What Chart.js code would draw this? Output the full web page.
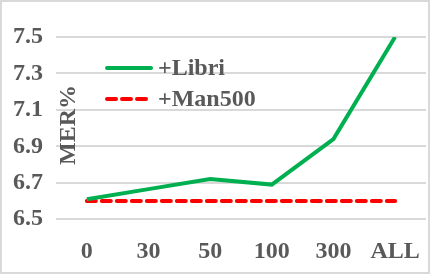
<!DOCTYPE html>
<html>
<head>
<meta charset="utf-8">
<script src="https://cdn.jsdelivr.net/npm/chart.js@4"></script>
<style>
    html, body { margin: 0; padding: 0; background: #fff; }
    #wrap { width: 430px; height: 274px; position: relative; }
</style>
</head>
<body>
<div id="wrap"><canvas id="merChart" width="430" height="274"></canvas></div>
<script>
const categories = ["0", "30", "50", "100", "300", "ALL"];
const libriValues = [6.61, 6.665, 6.72, 6.69, 6.94, 7.5];
const man500Values = [6.6, 6.6, 6.6, 6.6, 6.6, 6.6];
const yTicks = [6.5, 6.7, 6.9, 7.1, 7.3, 7.5];

const textColor = "#595959";
const fontFamily = "'Liberation Serif', 'Times New Roman', serif";

// frame, rotated axis title and the legend drawn inside the plot
const decorations = {
    id: "decorations",
    beforeDraw(chart) {
        const ctx = chart.ctx;
        ctx.save();
        ctx.fillStyle = "#fff";
        ctx.fillRect(0, 0, chart.width, chart.height);
        ctx.restore();
    },
    afterDraw(chart) {
        const ctx = chart.ctx;
        ctx.save();
        ctx.strokeStyle = "#d9d9d9";
        ctx.lineWidth = 2;
        ctx.strokeRect(1, 1, chart.width - 2, chart.height - 2);

        ctx.fillStyle = textColor;
        ctx.font = "bold 24px " + fontFamily;
        ctx.translate(69, 125);
        ctx.rotate(-Math.PI / 2);
        ctx.textAlign = "center";
        ctx.textBaseline = "middle";
        ctx.fillText("MER%", 0, 0);
        ctx.restore();

        ctx.save();
        ctx.font = "bold 24px " + fontFamily;
        ctx.textBaseline = "middle";
        chart.data.datasets.forEach((ds, i) => {
            const y = 68 + i * 31;
            ctx.strokeStyle = ds.borderColor;
            ctx.lineWidth = 4;
            ctx.lineCap = "round";
            ctx.setLineDash(ds.borderDash || []);
            ctx.beginPath();
            ctx.moveTo(107, y);
            ctx.lineTo(151, y);
            ctx.stroke();
            ctx.setLineDash([]);
            ctx.fillStyle = textColor;
            ctx.fillText(ds.label, 158, y + 1);
        });
        ctx.restore();
    }
};

new Chart(document.getElementById("merChart"), {
    type: "line",
    data: {
        labels: categories,
        datasets: [
            {
                label: "+Libri",
                data: libriValues,
                borderColor: "#00B050",
                borderWidth: 4,
                pointRadius: 0,
                tension: 0,
                fill: false
            },
            {
                label: "+Man500",
                data: man500Values,
                borderColor: "#FF0000",
                borderWidth: 4,
                borderDash: [9, 6],
                borderCapStyle: "round",
                pointRadius: 0,
                fill: false
            }
        ]
    },
    options: {
        responsive: false,
        animation: false,
        layout: {
            padding: { top: 37, right: 3, left: 0, bottom: -2 }
        },
        plugins: {
            legend: { display: false },
            tooltip: { enabled: false }
        },
        scales: {
            x: {
                offset: true,
                grid: { display: false },
                border: { display: false },
                ticks: {
                    color: textColor,
                    padding: 10,
                    font: { family: fontFamily, size: 24, weight: "bold" }
                }
            },
            y: {
                min: 6.5,
                max: 7.5,
                afterBuildTicks: (axis) => {
                    axis.ticks = yTicks.map(v => ({ value: v }));
                },
                grid: { color: "#d9d9d9", lineWidth: 2, drawTicks: false },
                border: { display: false },
                ticks: {
                    color: textColor,
                    padding: 13,
                    callback: (v) => Number(v).toFixed(1),
                    font: { family: fontFamily, size: 24, weight: "bold" }
                }
            }
        }
    },
    plugins: [decorations]
});
</script>
</body>
</html>
